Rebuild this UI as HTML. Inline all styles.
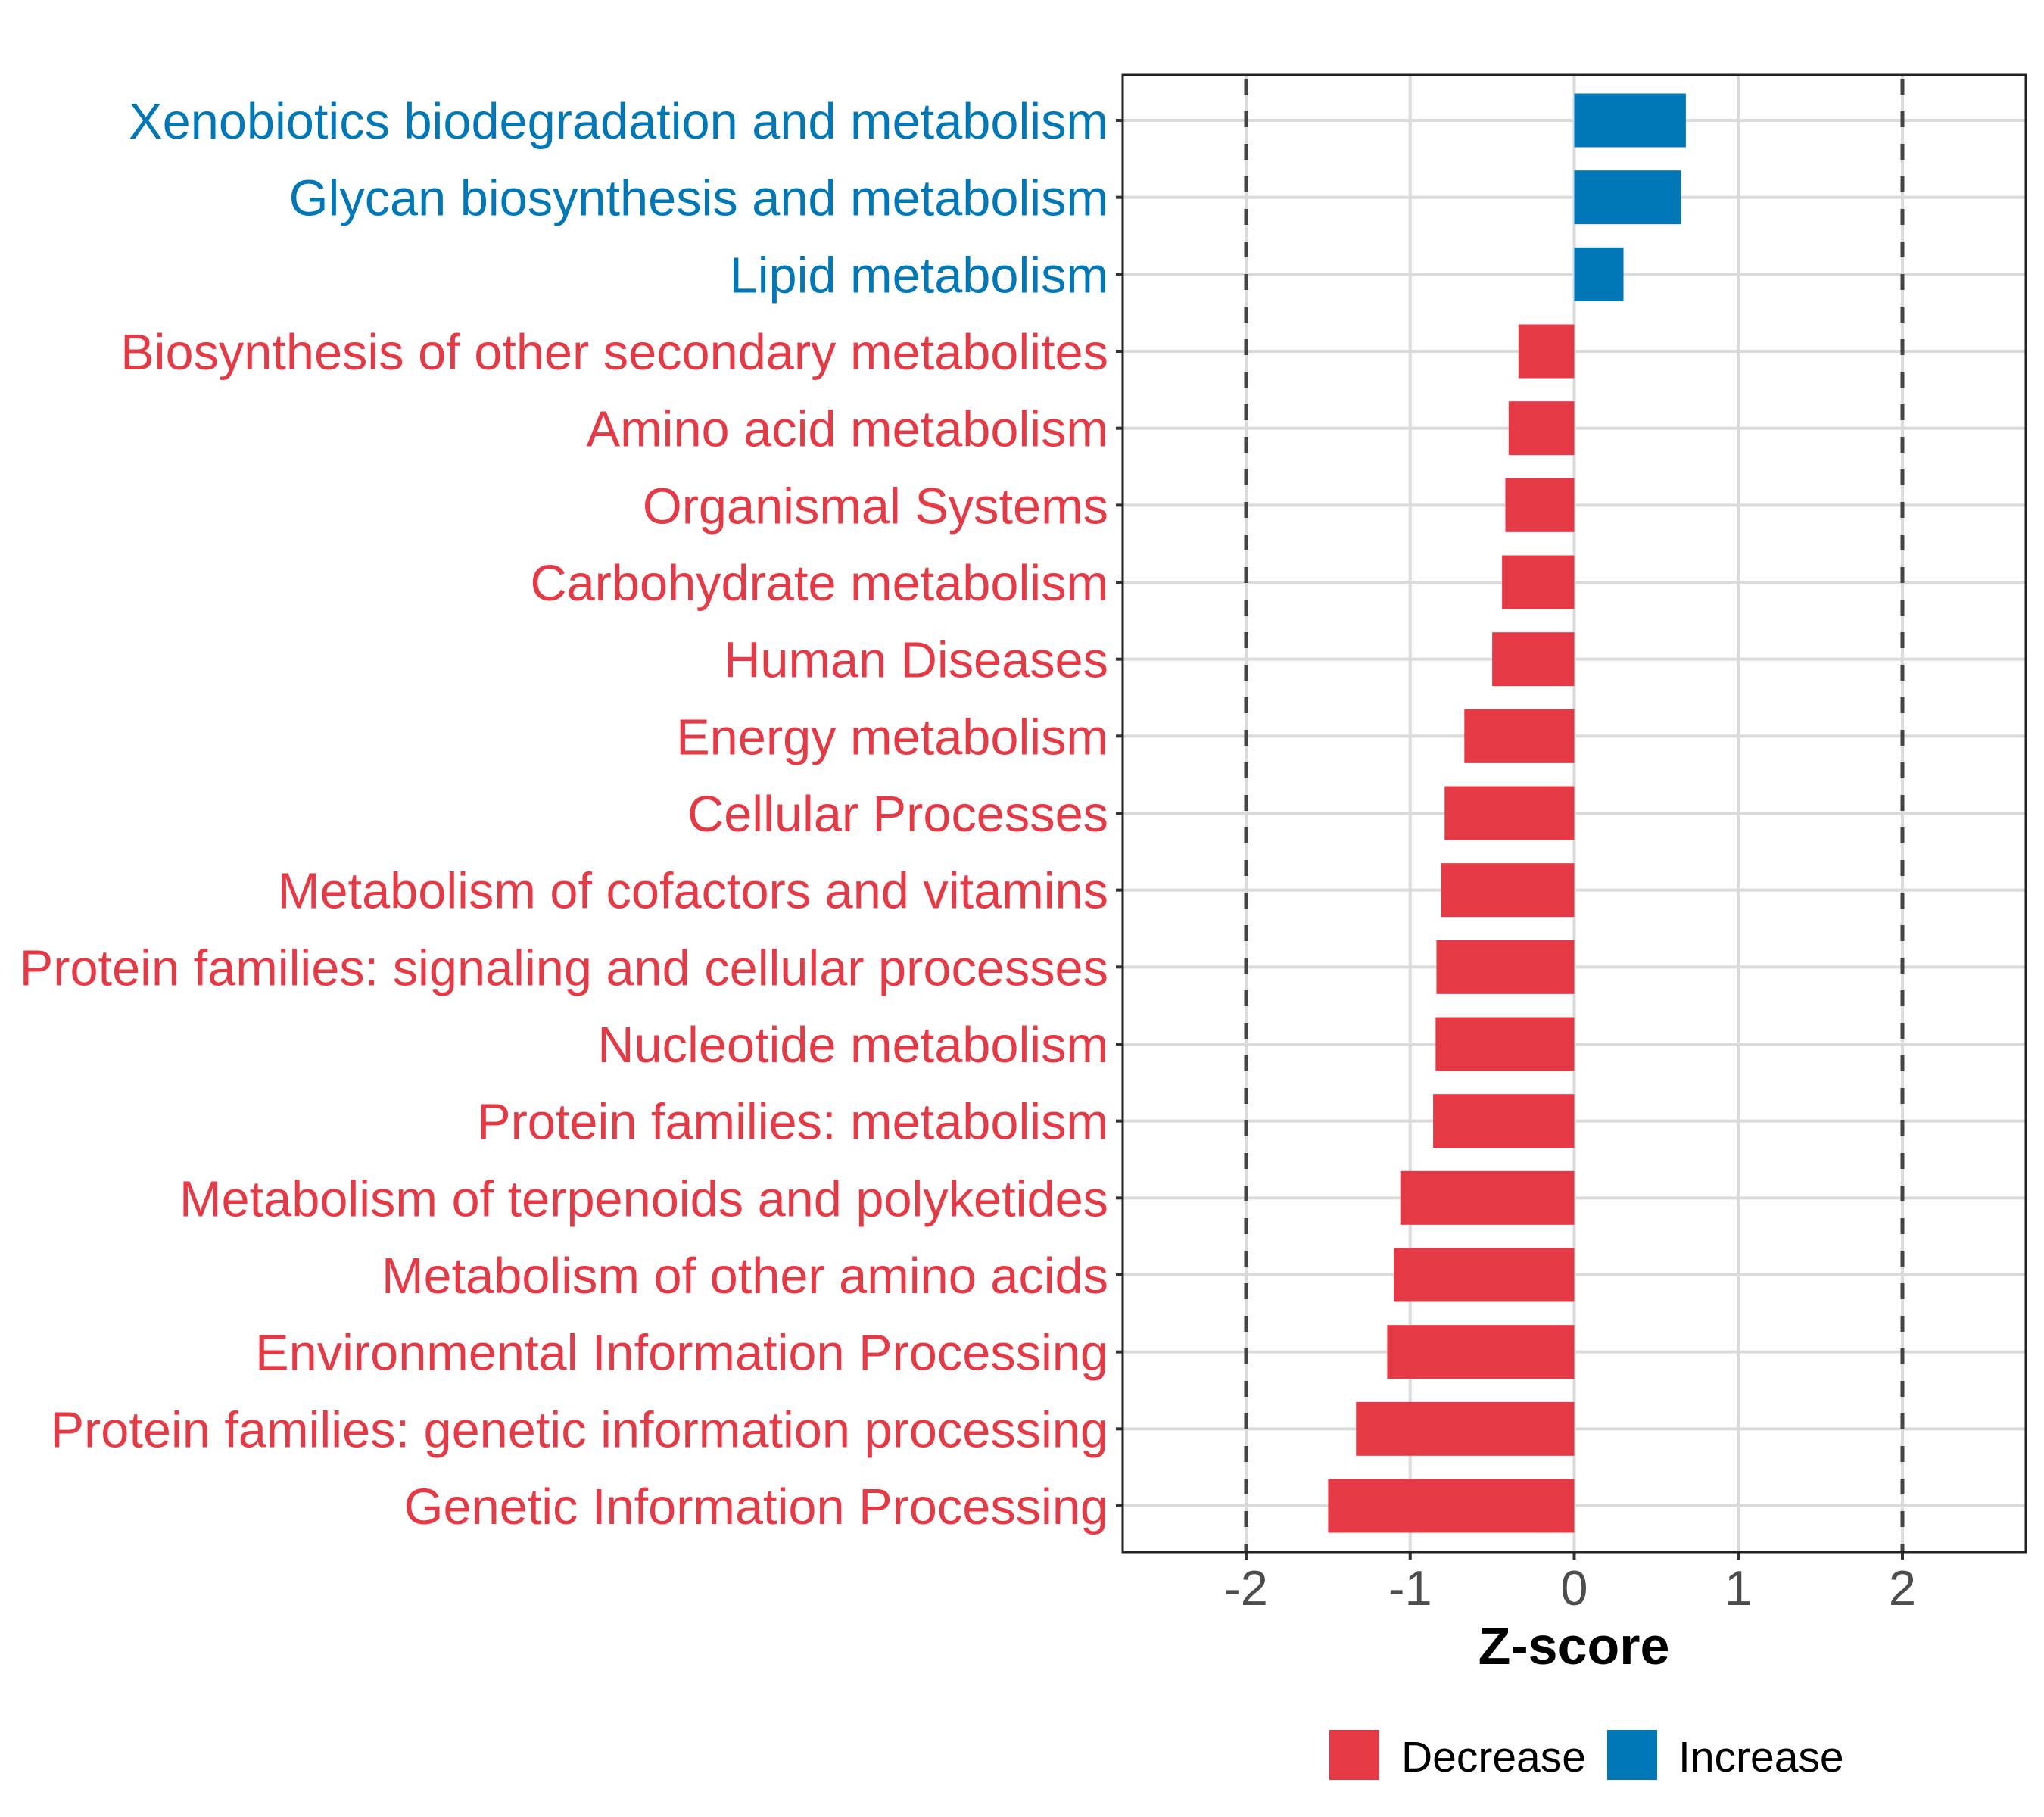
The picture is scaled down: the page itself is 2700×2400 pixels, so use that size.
<!DOCTYPE html>
<html><head><meta charset="utf-8"><style>
html,body{margin:0;padding:0;background:#fff;}
svg{display:block;font-family:"Liberation Sans",Arial,sans-serif;}
</style></head><body>
<svg id="chart" width="2700" height="2400" viewBox="0 0 2700 2400" xmlns="http://www.w3.org/2000/svg">
<g id="grid"></g>
<g id="bars"></g>
<g id="ylabels"></g>
<g id="xaxis"></g>
<text x="2079" y="2198" text-anchor="middle" font-size="70" font-weight="bold" fill="#000">Z-score</text>
<g>
 <rect x="1756" y="2285" width="66" height="66" fill="#E63946"/>
 <text x="1851" y="2340" font-size="57" fill="#000">Decrease</text>
 <rect x="2123" y="2285" width="66" height="66" fill="#0077B6"/>
 <text x="2217" y="2340" font-size="57" fill="#000">Increase</text>
</g>
</svg>
<script>
const categories = ["Xenobiotics biodegradation and metabolism","Glycan biosynthesis and metabolism","Lipid metabolism","Biosynthesis of other secondary metabolites","Amino acid metabolism","Organismal Systems","Carbohydrate metabolism","Human Diseases","Energy metabolism","Cellular Processes","Metabolism of cofactors and vitamins","Protein families: signaling and cellular processes","Nucleotide metabolism","Protein families: metabolism","Metabolism of terpenoids and polyketides","Metabolism of other amino acids","Environmental Information Processing","Protein families: genetic information processing","Genetic Information Processing"];
const zscores = [0.68,0.65,0.30,-0.34,-0.40,-0.42,-0.44,-0.50,-0.67,-0.79,-0.81,-0.84,-0.845,-0.86,-1.06,-1.10,-1.14,-1.33,-1.50];
const xTicks = [-2,-1,0,1,2];
const xTickLabels = ["-2","-1","0","1","2"];
const thresholds = [-2,2];

const NS="http://www.w3.org/2000/svg";
const L=1483,R=2676,T=99,B=2050;
const xMin=-2.752,xMax=2.752;
const x=v=>L+(v-xMin)/(xMax-xMin)*(R-L);
const yTop=159,step=(1989-159)/(categories.length-1);
const y=i=>yTop+i*step;
function mk(tag,attrs,parent){const e=document.createElementNS(NS,tag);for(const k in attrs)e.setAttribute(k,attrs[k]);parent.appendChild(e);return e;}
const grid=document.getElementById('grid'),bars=document.getElementById('bars'),yl=document.getElementById('ylabels'),xa=document.getElementById('xaxis');
xTicks.forEach((t,i)=>{const l=mk('line',{x1:x(t),x2:x(t),y1:T,y2:B,stroke:'#dadada','stroke-width':4},grid);

});
categories.forEach((c,i)=>{const l=mk('line',{x1:L,x2:R,y1:y(i),y2:y(i),stroke:'#dadada','stroke-width':4},grid);

});
const bh=71;
categories.forEach((c,i)=>{const v=zscores[i];const x0=x(Math.min(0,v)),x1=x(Math.max(0,v));
const r=mk('rect',{x:x0,y:y(i)-bh/2,width:x1-x0,height:bh,fill:v>=0?'#0077B6':'#E63946'},bars);

});
thresholds.forEach(t=>{const l=mk('line',{x1:x(t),x2:x(t),y1:T,y2:B,stroke:'#444','stroke-width':5,'stroke-dasharray':'21 22','stroke-dashoffset':'-5'},grid.parentNode);

});
const pb=mk('rect',{x:L,y:T,width:R-L,height:B-T,fill:'none',stroke:'#222','stroke-width':3},grid.parentNode);


categories.forEach((c,i)=>{const v=zscores[i];
const tk=mk('line',{x1:L-9,x2:L,y1:y(i),y2:y(i),stroke:'#333','stroke-width':4},yl);


const t=mk('text',{x:L-19,y:y(i)+24,'text-anchor':'end','font-size':66.7,fill:v>=0?'#0077B6':'#E63946'},yl);
t.textContent=c;

});
xTicks.forEach((tv,i)=>{const tk=mk('line',{x1:x(tv),x2:x(tv),y1:B,y2:B+10,stroke:'#333','stroke-width':4},xa);


const t=mk('text',{x:x(tv),y:2120,'text-anchor':'middle','font-size':65,fill:'#4d4d4d'},xa);
t.textContent=xTickLabels[i];

});
</script>
</body></html>
